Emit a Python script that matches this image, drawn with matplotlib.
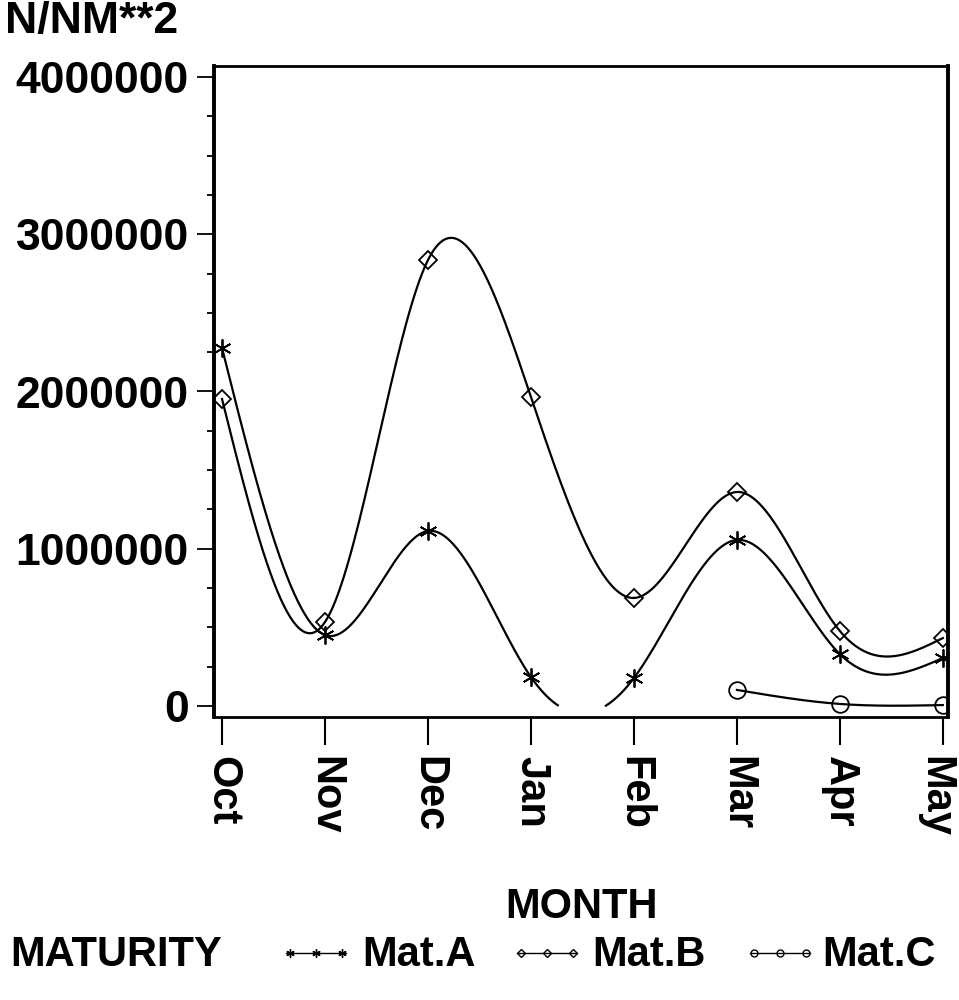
import numpy as np
import matplotlib
matplotlib.use("Agg")
import matplotlib.pyplot as plt
import matplotlib.transforms as mtransforms
from matplotlib.lines import Line2D
from matplotlib.ticker import MultipleLocator

plt.rcParams['font.family'] = ['Liberation Sans', 'DejaVu Sans']
plt.rcParams['font.weight'] = 'bold'

months = ['Oct', 'Nov', 'Dec', 'Jan', 'Feb', 'Mar', 'Apr', 'May']
mat_a = [2277000, 451000, 1113000, 184000, 178000, 1056000, 330000, 305000]
mat_b = [1952000, 534000, 2836000, 1965000, 687000, 1361000, 477000, 432000]
# Mat.C only sampled Mar-May
months_c = ['Mar', 'Apr', 'May']
mat_c = [102000, 13000, 6000]
series_names = ['Mat.A', 'Mat.B', 'Mat.C']


def natural_spline(x, y, xs):
    # plain natural cubic spline, like SAS interpol=spline
    x = np.asarray(x, float)
    y = np.asarray(y, float)
    n = len(x)
    h = np.diff(x)
    A = np.zeros((n, n))
    r = np.zeros(n)
    A[0, 0] = A[-1, -1] = 1
    for i in range(1, n - 1):
        A[i, i - 1] = h[i - 1]
        A[i, i] = 2 * (h[i - 1] + h[i])
        A[i, i + 1] = h[i]
        r[i] = 3 * ((y[i + 1] - y[i]) / h[i] - (y[i] - y[i - 1]) / h[i - 1])
    c = np.linalg.solve(A, r)
    b = (y[1:] - y[:-1]) / h - h * (2 * c[:-1] + c[1:]) / 3
    d = (c[1:] - c[:-1]) / (3 * h)
    idx = np.clip(np.searchsorted(x, xs) - 1, 0, n - 2)
    dx = xs - x[idx]
    return y[idx] + b[idx] * dx + c[idx] * dx ** 2 + d[idx] * dx ** 3


fig = plt.figure(figsize=(9.59, 10), dpi=100)
ax = fig.add_axes([214 / 959, 1 - 717 / 1000, 734 / 959, 651 / 1000])

xa = np.arange(len(months))
xc = np.array([months.index(m) for m in months_c])

markers = [((6, 2, 0), 13, 6), ('D', 9, 4), ('o', 12, 5)]
for (x, y), (mk, ms, _) in zip([(xa, mat_a), (xa, mat_b), (xc, mat_c)], markers):
    xs = np.linspace(x[0], x[-1], 600)
    ys = natural_spline(x, y, xs)
    ys = np.where(ys < 0, np.nan, ys)
    ax.plot(xs, ys, color='black', lw=1.6)
    ax.plot(x, y, linestyle='none', marker=mk, ms=ms, mfc='none',
            mec='black', mew=1.3)

ax.set_xlim(-0.078, 7.05)
ax.set_ylim(-70000, 4070000)
ax.set_xticks(xa)
ax.set_xticklabels(months, rotation=270, fontsize=30, fontweight='bold')
ax.set_yticks([0, 1000000, 2000000, 3000000, 4000000])
ax.set_yticklabels(['0', '1000000', '2000000', '3000000', '4000000'],
                   fontsize=32, fontweight='bold')
ax.yaxis.set_minor_locator(MultipleLocator(250000))
ax.tick_params(axis='x', direction='out', length=20, width=1.5, pad=8)
ax.tick_params(axis='y', which='major', direction='out', length=12, width=1.3, pad=6)
ax.tick_params(axis='y', which='minor', direction='out', length=5, width=1.3)
for side in ['left', 'right']:
    ax.spines[side].set_linewidth(2.8)
for side in ['top', 'bottom']:
    ax.spines[side].set_linewidth(2.0)

# last month label sits on the figure edge, pull it in a little
may_lbl = ax.get_xticklabels()[-1]
may_lbl.set_transform(may_lbl.get_transform() +
                      mtransforms.ScaledTranslation(-8 / 100, 0, fig.dpi_scale_trans))

fig.text(5 / 959, 1 - 22 / 1000, 'N/NM**2', fontsize=32, fontweight='bold',
         ha='left', va='center')
fig.text(582 / 959, 1 - 907 / 1000, 'MONTH', fontsize=30, fontweight='bold',
         ha='center', va='center')
fig.text(10 / 959, 1 - 955 / 1000, 'MATURITY', fontsize=30, fontweight='bold',
         ha='left', va='center')

# legend drawn by hand so the SAS-like spacing can be matched
leg_y = 1 - 953 / 1000
leg_pos = [(286, 346, 362), (517, 577, 592), (750, 810, 822)]
for (x0, x1, xt), (mk, _, ms), name in zip(leg_pos, markers, series_names):
    hx = np.array([x0 + 4, (x0 + x1) / 2, x1 - 4]) / 959
    fig.add_artist(Line2D([x0 / 959, x1 / 959], [leg_y, leg_y], color='black',
                          lw=1, transform=fig.transFigure))
    fig.add_artist(Line2D(hx, [leg_y] * 3, linestyle='none', marker=mk, ms=ms,
                          mfc='none', mec='black', mew=1,
                          transform=fig.transFigure))
    fig.text(xt / 959, 1 - 955 / 1000, name, fontsize=30, fontweight='bold',
             ha='left', va='center')

fig.savefig('out.png', dpi=100)
